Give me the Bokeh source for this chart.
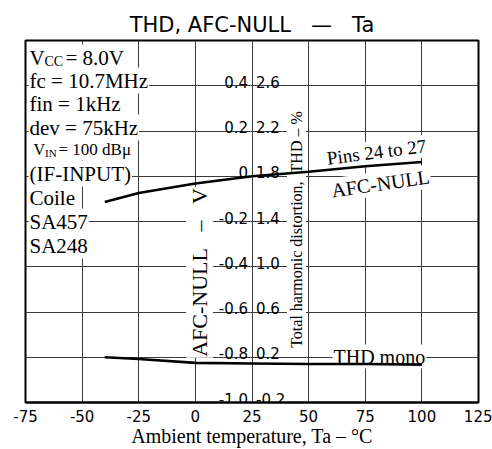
import numpy as np
from bokeh.plotting import figure
from bokeh.models import FixedTicker, Range1d
from bokeh.core.properties import value
from bokeh.embed import file_html
from bokeh.resources import INLINE

# ---- data ----
temps = [-40, -25, 0, 25, 50, 75, 100]                          # Ta (deg C)
afc_null_v = [-0.114, -0.074, -0.032, 0.0, 0.02, 0.044, 0.063]  # AFC-NULL (V)
thd_mono_pct = [0.20, 0.185, 0.15, 0.145, 0.14, 0.14, 0.135]    # THD mono (%)

x_ticks = [-75, -50, -25, 0, 25, 50, 75, 100, 125]
afc_ticks = [0.4, 0.2, 0.0, -0.2, -0.4, -0.6, -0.8, -1.0]
afc_tick_labels = ["0.4", "0.2", "0", "-0.2", "-0.4", "-0.6", "-0.8", "-1.0"]
thd_ticks = [2.6, 2.2, 1.8, 1.4, 1.0, 0.6, 0.2, -0.2]
thd_tick_labels = ["2.6", "2.2", "1.8", "1.4", "1.0", "0.6", "0.2", "-0.2"]
afc_grid = [-1.0, -0.8, -0.6, -0.4, -0.2, 0.0, 0.2, 0.4, 0.6]

cond_rows = ["fc = 10.7MHz", "fin = 1kHz", "dev = 75kHz", "(IF-INPUT)",
             "Coile", "SA457", "SA248"]

SERIF = value("Liberation Serif")
SANS = value("DejaVu Sans")
NB = "\u00a0"

# helpers: reference-picture pixel -> data position (annotation placement only)
def X(px):
    return -75 + (px - 25) * 200 / 453

def Y(py):
    return 0.6 - (py - 40) * 1.6 / 362

p = figure(width=492, height=449, output_backend="svg", toolbar_location=None,
           x_range=Range1d(-75, 125), y_range=Range1d(-1.0, 0.6),
           min_border_left=25, min_border_right=14, min_border_top=40,
           min_border_bottom=47)
p.extra_y_ranges = {"thd": Range1d(-0.2, 3.0)}

p.title.text = f"THD, AFC-NULL{NB*3}\u2014{NB*3}Ta"
p.title.text_font = "DejaVu Sans"
p.title.text_font_size = "21px"
p.title.text_font_style = "normal"
p.title.text_color = "black"
p.title.align = "center"
p.title.standoff = 8
p.title.offset = 9

p.outline_line_color = "black"
p.outline_line_width = 2
p.background_fill_color = "white"

p.yaxis.visible = False
ax = p.xaxis[0]
ax.ticker = FixedTicker(ticks=x_ticks)
ax.major_label_overrides = {t: str(t) for t in x_ticks}
ax.major_tick_out = 0
ax.major_tick_in = 0
ax.minor_tick_out = 0
ax.minor_tick_in = 0
ax.axis_line_width = 2
ax.axis_line_color = "black"
ax.major_label_text_font = "DejaVu Sans"
ax.major_label_text_font_size = "15px"
ax.major_label_text_color = "black"
ax.major_label_standoff = 7
ax.axis_label = "Ambient temperature, Ta \u2013 \u00b0C"
ax.axis_label_text_font = "Liberation Serif"
ax.axis_label_text_font_size = "20px"
ax.axis_label_text_font_style = "normal"
ax.axis_label_text_color = "black"
ax.axis_label_standoff = 0

p.xgrid.ticker = FixedTicker(ticks=x_ticks)
p.ygrid.ticker = FixedTicker(ticks=afc_grid)
for g in (p.xgrid, p.ygrid):
    g.grid_line_color = "#3a3a3a"
    g.grid_line_width = 1
    g.grid_line_alpha = 1.0

# ---- condition block (upper left) ----
bg = dict(background_fill_color="white", padding=1)
p.text(x=[X(28)], y=[Y(57)], text=["V"], text_font=SERIF, text_font_size="21px",
       text_baseline="alphabetic", **bg)
p.text(x=[X(43)], y=[Y(61)], text=["CC"], text_font=SERIF, text_font_size="14px",
       text_baseline="alphabetic", **bg)
p.text(x=[X(64)], y=[Y(57)], text=["= 8.0V"], text_font=SERIF, text_font_size="21px",
       text_baseline="alphabetic", **bg)
p.text(x=[X(28)] * 3, y=[Y(80), Y(103), Y(127)], text=cond_rows[:3], text_font=SERIF,
       text_font_size="21px", text_baseline="alphabetic", **bg)
p.text(x=[X(32)], y=[Y(149)], text=["V"], text_font=SERIF, text_font_size="16px",
       text_baseline="alphabetic", **bg)
p.text(x=[X(43.5)], y=[Y(152)], text=["IN"], text_font=SERIF, text_font_size="11px",
       text_baseline="alphabetic", **bg)
p.text(x=[X(57)], y=[Y(149)], text=["= 100 dB\u03bc"], text_font=SERIF,
       text_font_size="17px", text_baseline="alphabetic", **bg)
p.text(x=[X(28)] * 4, y=[Y(173), Y(197), Y(221), Y(245)], text=cond_rows[3:],
       text_font=SERIF, text_font_size="21px", text_baseline="alphabetic", **bg)

# ---- center scale labels ----
p.text(x=[25] * len(afc_ticks), y=afc_ticks, text=afc_tick_labels, text_font=SANS,
       text_font_size="15px", text_align="right", text_baseline="alphabetic",
       x_offset=-4, y_offset=-4)
p.text(x=[25] * len(thd_ticks), y=thd_ticks, text=thd_tick_labels, text_font=SANS,
       text_font_size="15px", text_align="left", text_baseline="alphabetic",
       x_offset=4, y_offset=-4, y_range_name="thd")

# ---- axis titles inside the plot ----
p.text(x=[X(199)], y=[Y(272)], text=[f"AFC-NULL{NB*3}\u2013{NB*3}V"], text_font=SERIF,
       text_font_size="22px", text_align="center", text_baseline="middle",
       angle=np.pi / 2, **bg)
p.text(x=[X(296)], y=[Y(229)], text=[f"Total harmonic distortion,{NB*2}THD \u2013 %"],
       text_font=SERIF, text_font_size="16px", text_align="center",
       text_baseline="middle", angle=np.pi / 2, **bg)

# ---- curve labels ----
p.text(x=[X(376)], y=[Y(151.5)], text=["Pins 24 to 27"], text_font=SERIF,
       text_font_size="19px", text_align="center", text_baseline="alphabetic",
       angle=0.127, **bg)
p.text(x=[X(380)], y=[Y(183)], text=["AFC-NULL"], text_font=SERIF,
       text_font_size="20px", text_align="center", text_baseline="alphabetic",
       angle=0.143, **bg)
p.text(x=[X(332)], y=[Y(356)], text=["THD mono"], text_font=SERIF,
       text_font_size="20px", text_align="left", text_baseline="alphabetic", **bg)

# ---- curves ----
p.line(temps, afc_null_v, line_color="black", line_width=2.6)
p.line(temps, thd_mono_pct, line_color="black", line_width=2.6, y_range_name="thd")

open("out.html", "w").write(file_html(p, INLINE))
